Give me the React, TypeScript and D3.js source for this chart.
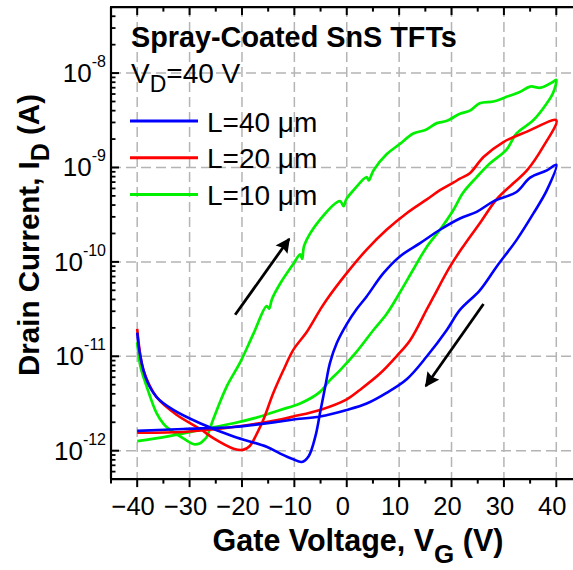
import React from 'react';
import * as d3 from 'd3';

const W = 573;
const H = 570;

// axis ticks
const xMajor = [-40, -30, -20, -10, 0, 10, 20, 30, 40];
const xMinor = [-45, -35, -25, -15, -5, 5, 15, 25, 35, 45];
const yDecadeExp = [-12, -11, -10, -9, -8];

// L = 40 um (blue)
const blueV = [-40, -39.4, -38.2, -36.3, -33.1, -28, -21.6, -15.3, -12.7, -10.2, -8.6, -7.3, -6.0, -5.1, -4.1, -3.2, -1.9, 0, 1.9, 3.8, 7.0, 10.2, 14.0, 17.8, 21.6, 24.8, 28.0, 32.4, 35.0, 38.2, 40,
  38.2, 35.6, 32.4, 28.6, 25.4, 21.6, 19.1, 15.3, 11.5, 7.6, 3.8, 0, -5.1, -10.2, -12.7, -21.6, -31.2, -40];
const blueI = [1.78e-11, 1.0e-11, 5.6e-12, 3.7e-12, 2.7e-12, 1.95e-12, 1.41e-12, 1.1e-12, 9.3e-13, 8.1e-13, 7.6e-13, 8.7e-13, 1.41e-12, 2.5e-12, 4.8e-12, 8.5e-12, 1.38e-11, 2.19e-11, 3.16e-11, 4.3e-11, 7.6e-11, 1.15e-10, 1.58e-10, 2.19e-10, 2.88e-10, 3.39e-10, 4.37e-10, 5.5e-10, 7.8e-10, 9.3e-10, 1.07e-9,
  5.75e-10, 3.24e-10, 1.7e-10, 8.9e-11, 5.0e-11, 3.1e-11, 1.9e-11, 1.0e-11, 5.75e-12, 4.1e-12, 3.16e-12, 2.7e-12, 2.3e-12, 2.14e-12, 2.04e-12, 1.78e-12, 1.7e-12, 1.62e-12];

// L = 20 um (red)
const redV = [-40, -39.5, -38.8, -36.3, -32.5, -28, -25.4, -21.6, -19.8, -18.5, -17.2, -15.9, -14, -12.1, -10.2, -7.6, -5.1, -3.8, 0, 3.8, 7.6, 11.5, 15.3, 17.8, 20.5, 21.6, 23.5, 26.1, 29.9, 34.4, 40,
  37.5, 34.4, 31.8, 28.6, 25.4, 22.2, 19.7, 16.5, 15.3, 12.1, 9.5, 6.4, 2.5, 0, -5.1, -10.2, -12.7, -21.6, -31.2, -40];
const redI = [1.95e-11, 1.12e-11, 7.1e-12, 3.7e-12, 2.4e-12, 1.7e-12, 1.35e-12, 1.05e-12, 1.02e-12, 1.12e-12, 1.5e-12, 2.14e-12, 4.1e-12, 7.1e-12, 1.17e-11, 1.82e-11, 3.1e-11, 4.0e-11, 7.6e-11, 1.35e-10, 2.19e-10, 3.3e-10, 4.6e-10, 5.75e-10, 7.0e-10, 7.6e-10, 8.7e-10, 1.29e-9, 1.86e-9, 2.4e-9, 3.16e-9,
  1.66e-9, 9.3e-10, 6.8e-10, 4.6e-10, 2.57e-10, 1.45e-10, 8.9e-11, 4.2e-11, 3.16e-11, 1.48e-11, 1.0e-11, 6.6e-12, 4.4e-12, 3.5e-12, 2.7e-12, 2.3e-12, 2.14e-12, 1.78e-12, 1.58e-12, 1.55e-12];

// L = 10 um (green)
const greenV = [-40, -39.4, -38.2, -36.3, -34.9, -33.7, -31.2, -29.2, -28, -27.3, -26.7, -25.5, -22.9, -20.4, -17.8, -15.3, -14.8, -14.3, -12.7, -10.2, -8.9, -8.5, -8.1, -5.1, -1.3, -0.6, -0.1, 1.3, 3.8, 4.2, 5.1, 7.6, 10, 12.7, 15, 17.2, 19, 21.6, 23.5, 25.4, 28, 30.5, 33, 35, 37, 39.4, 40,
  39.4, 38.2, 35.6, 32.4, 30.5, 27.3, 24.8, 22.2, 20.3, 17.8, 15.3, 12.7, 10.2, 7.6, 5.1, 1.9, -1.3, -3.2, -5.1, -8.9, -12.7, -16.5, -21.6, -28, -34.4, -40];
const greenI = [1.41e-11, 7.9e-12, 4.8e-12, 2.5e-12, 1.9e-12, 1.66e-12, 1.35e-12, 1.17e-12, 1.2e-12, 1.29e-12, 1.41e-12, 2.14e-12, 4.8e-12, 8.5e-12, 1.74e-11, 3.4e-11, 3.2e-11, 4.0e-11, 5.9e-11, 9.5e-11, 1.2e-10, 1.08e-10, 1.5e-10, 2.8e-10, 4.4e-10, 3.9e-10, 4.6e-10, 5.75e-10, 7.9e-10, 7.3e-10, 9.3e-10, 1.38e-9, 1.75e-9, 2.29e-9, 2.5e-9, 2.95e-9, 3.1e-9, 3.7e-9, 4.0e-9, 4.8e-9, 5.0e-9, 5.6e-9, 6.3e-9, 7.2e-9, 7.0e-9, 8.1e-9, 8.5e-9,
  6.2e-9, 4.8e-9, 3.16e-9, 2.29e-9, 1.55e-9, 1.1e-9, 7.9e-10, 5.4e-10, 3.5e-10, 2.19e-10, 1.45e-10, 8.3e-11, 4.8e-11, 2.8e-11, 1.9e-11, 1.12e-11, 7.1e-12, 5.6e-12, 4.2e-12, 3.16e-12, 2.7e-12, 2.3e-12, 1.95e-12, 1.66e-12, 1.41e-12, 1.26e-12];

const legendLabels = ['L=40 \u03BCm', 'L=20 \u03BCm', 'L=10 \u03BCm'];
const seriesColors = ['#0000ff', '#ff0000', '#00f000'];

// sweep-direction arrows [V, I]
const arrowUpFrom = [-21.3, 2.75e-11];
const arrowUpTo = [-11.0, 1.75e-10];
const arrowDownFrom = [26.1, 3.58e-11];
const arrowDownTo = [15.1, 4.84e-12];

const FONT = "'Liberation Sans', Arial, Helvetica, sans-serif";

export default function App() {
  const left = 111;
  const top = 7.1;
  const bottom = 479.1;
  const x = d3.scaleLinear().domain([-45, 45]).range([left, 582.5]);
  const y = d3.scaleLog().domain([5e-13, 5e-8]).range([bottom, top]);

  const line = d3.line<[number, number]>()
    .x(d => x(d[0]))
    .y(d => y(d[1]))
    .curve(d3.curveCatmullRom.alpha(0.5));
  const series = [
    { v: greenV, i: greenI, c: seriesColors[2], w: 2.7 },
    { v: redV, i: redI, c: seriesColors[1], w: 2.6 },
    { v: blueV, i: blueI, c: seriesColors[0], w: 2.6 },
  ];

  const yMinor: number[] = [];
  for (const e of [-13, -12, -11, -10, -9, -8]) {
    for (let m = 2; m <= 9; m++) {
      const v = m * Math.pow(10, e);
      if (v >= 5e-13 && v <= 5e-8) yMinor.push(v);
    }
  }

  const grid = '#b4b4b4';
  const arrows = [
    [arrowUpFrom, arrowUpTo],
    [arrowDownFrom, arrowDownTo],
  ];

  return (
    <svg width={W} height={H} style={{ position: 'absolute', left: 0, top: 0, background: '#fff' }} fontFamily={FONT}>
      <defs>
        <marker id="ah" viewBox="0 0 10 10" refX="9" refY="5" markerWidth="5.5" markerHeight="5.2" orient="auto" markerUnits="strokeWidth">
          <path d="M0,0 L10,5 L0,10 L1.5,5 z" fill="#000" />
        </marker>
      </defs>
      <rect x={0} y={0} width={W} height={H} fill="#fff" />
      {/* grid */}
      {xMajor.map(v => (
        <line key={'gx' + v} x1={x(v)} x2={x(v)} y1={top} y2={bottom} stroke={grid} strokeWidth={1.5} strokeDasharray="10,5" />
      ))}
      {yDecadeExp.map(e => (
        <line key={'gy' + e} x1={left} x2={W} y1={y(Math.pow(10, e))} y2={y(Math.pow(10, e))} stroke={grid} strokeWidth={1.5} strokeDasharray="10,5" />
      ))}
      {/* curves */}
      {series.map((s, k) => (
        <path key={'s' + k} d={line(d3.zip(s.v, s.i) as [number, number][]) || ''} fill="none" stroke={s.c} strokeWidth={s.w} strokeLinejoin="round" />
      ))}
      {/* arrows */}
      {arrows.map((a, k) => (
        <line key={'ar' + k} x1={x(a[0][0])} y1={y(a[0][1])} x2={x(a[1][0])} y2={y(a[1][1])} stroke="#000" strokeWidth={2.8} markerEnd="url(#ah)" />
      ))}
      {/* axes lines */}
      <line x1={left} x2={left} y1={top} y2={bottom} stroke="#000" strokeWidth={2.2} />
      <line x1={left - 1} x2={W} y1={bottom} y2={bottom} stroke="#000" strokeWidth={2.2} />
      <line x1={left - 1} x2={W} y1={top} y2={top} stroke="#000" strokeWidth={2.2} />
      {/* x ticks bottom (outward) and top (inward) */}
      {xMajor.map(v => (
        <g key={'xt' + v}>
          <line x1={x(v)} x2={x(v)} y1={bottom} y2={bottom + 8} stroke="#000" strokeWidth={2} />
          <line x1={x(v)} x2={x(v)} y1={top} y2={top + 8} stroke="#000" strokeWidth={2} />
          <text x={x(v) - 4} y={515} textAnchor="middle" fontSize={25.5}>{v < 0 ? '\u2212' + Math.abs(v) : String(v)}</text>
        </g>
      ))}
      {xMinor.map(v => (
        <g key={'xm' + v}>
          <line x1={x(v)} x2={x(v)} y1={bottom} y2={bottom + 4.5} stroke="#000" strokeWidth={2} />
          <line x1={x(v)} x2={x(v)} y1={top} y2={top + 4.5} stroke="#000" strokeWidth={2} />
        </g>
      ))}
      {/* y ticks (inward) */}
      {yDecadeExp.map(e => (
        <g key={'yt' + e}>
          <line x1={left} x2={left + 8} y1={y(Math.pow(10, e))} y2={y(Math.pow(10, e))} stroke="#000" strokeWidth={2} />
          <text x={106} y={y(Math.pow(10, e)) + 9} textAnchor="end" fontSize={26}>
            10<tspan dy={-15} fontSize={16}>{'-' + Math.abs(e)}</tspan>
          </text>
        </g>
      ))}
      {yMinor.map((v, k) => (
        <line key={'ym' + k} x1={left} x2={left + 4.5} y1={y(v)} y2={y(v)} stroke="#000" strokeWidth={1.8} />
      ))}
      {/* axis titles */}
      <text x={358} y={551} textAnchor="middle" fontSize={30.5} fontWeight="bold">
        Gate Voltage, V<tspan dy={12} fontSize={26}>G</tspan><tspan dy={-12}> (V)</tspan>
      </text>
      <text transform={`translate(38.5,235) rotate(-90)`} textAnchor="middle" fontSize={29.5} fontWeight="bold">
        Drain Current, I<tspan dy={10} fontSize={25}>D</tspan><tspan dy={-10}> (A)</tspan>
      </text>
      {/* legend */}
      <text x={131} y={46.5} fontSize={28.8} fontWeight="bold">Spray-Coated SnS TFTs</text>
      <text x={131} y={83} fontSize={28}>V<tspan dy={9} fontSize={23}>D</tspan><tspan dy={-9}>=40 V</tspan></text>
      {legendLabels.map((lab, k) => {
        const ly = 121 + k * 36.7;
        return (
          <g key={'lg' + k}>
            <line x1={130} x2={198} y1={ly} y2={ly} stroke={seriesColors[k]} strokeWidth={3} />
            <text x={207} y={ly + 10.5} fontSize={28}>{lab}</text>
          </g>
        );
      })}
    </svg>
  );
}
